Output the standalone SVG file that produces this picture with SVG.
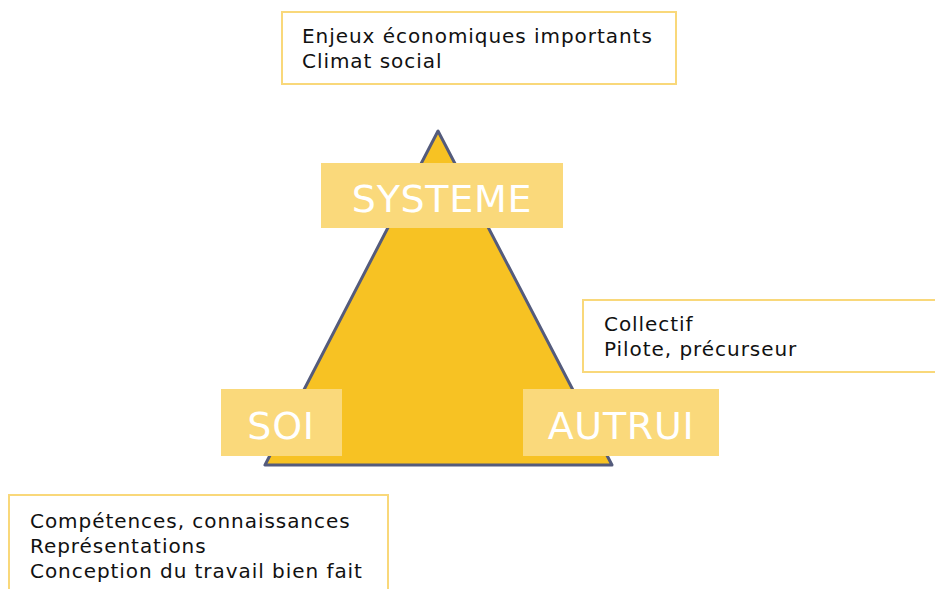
<svg xmlns="http://www.w3.org/2000/svg" width="935" height="589" viewBox="0 0 935 589">
<style>
.box{fill:#ffffff;stroke:#f9d87a;stroke-width:2}
.lab{fill:#fad97b}
.t{font-family:"DejaVu Sans",Verdana,sans-serif;font-size:20px;letter-spacing:0.95px;fill:#111111}
.big{font-family:"DejaVu Sans",Verdana,sans-serif;font-size:38px;letter-spacing:0.7px;fill:#ffffff;text-anchor:middle}
</style>
<rect width="935" height="589" fill="#ffffff"/>
<g id="triangle">
<polygon points="438,131 265,465 612,465" fill="#f7c223" stroke="#545b7c" stroke-width="3" stroke-linejoin="round"/>
</g>
<g id="top-box">
<rect class="box" x="282" y="12" width="394" height="72"/>
<text class="t" x="302" y="43">Enjeux économiques importants</text>
<text class="t" x="302" y="68">Climat social</text>
</g>
<g id="right-box">
<rect class="box" x="583" y="300" width="360" height="72"/>
<text class="t" x="604" y="331">Collectif</text>
<text class="t" x="604" y="356">Pilote, précurseur</text>
</g>
<g id="bottom-box">
<rect class="box" x="9" y="495" width="379" height="100"/>
<text class="t" x="30" y="528">Compétences, connaissances</text>
<text class="t" x="30" y="553">Représentations</text>
<text class="t" x="30" y="578">Conception du travail bien fait</text>
</g>
<g id="systeme">
<rect class="lab" x="321" y="163" width="242" height="65"/>
<text class="big" x="442" y="212">SYSTEME</text>
</g>
<g id="soi">
<rect class="lab" x="221" y="389" width="121" height="67"/>
<text class="big" x="281" y="439">SOI</text>
</g>
<g id="autrui">
<rect class="lab" x="523" y="389" width="196" height="67"/>
<text class="big" x="621" y="439">AUTRUI</text>
</g>
<g id="connectors"></g>
</svg>
